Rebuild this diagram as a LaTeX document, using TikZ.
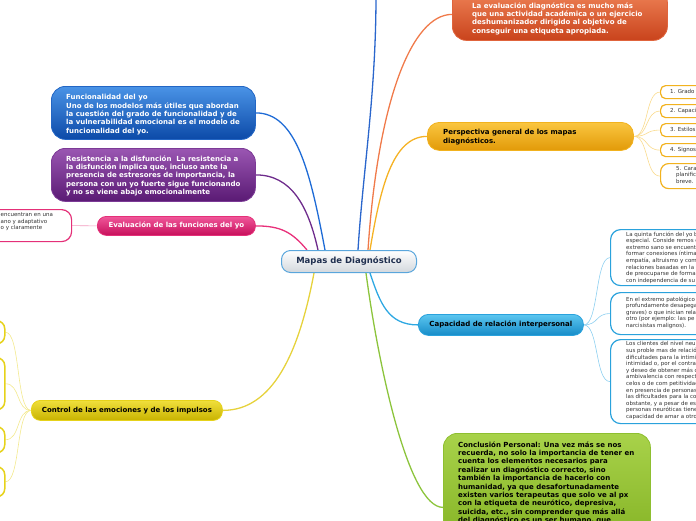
\documentclass[tikz,border=0pt]{standalone}
\usepackage{fontspec}
\setmainfont{DejaVu Sans}
\usetikzlibrary{calc,backgrounds}
\definecolor{bluT}{HTML}{4A93E6}\definecolor{bluB}{HTML}{0C4AA8}\definecolor{bluD}{HTML}{2366C4}
\definecolor{purT}{HTML}{9A56B2}\definecolor{purB}{HTML}{5A1A74}\definecolor{purD}{HTML}{7C3A96}
\definecolor{pnkT}{HTML}{F0579A}\definecolor{pnkB}{HTML}{C70F5B}\definecolor{pnkD}{HTML}{E43078}
\definecolor{yelT}{HTML}{F0DF3C}\definecolor{yelB}{HTML}{C8B300}\definecolor{yelD}{HTML}{E6D21A}
\definecolor{ornT}{HTML}{F08458}\definecolor{ornB}{HTML}{C9431C}\definecolor{ornD}{HTML}{E0643C}
\definecolor{gldT}{HTML}{FAC640}\definecolor{gldB}{HTML}{E29A08}\definecolor{gldD}{HTML}{F2B21E}
\definecolor{capT}{HTML}{5CC6F0}\definecolor{capB}{HTML}{168CC8}\definecolor{capD}{HTML}{2AA2DC}
\definecolor{grnT}{HTML}{A8D24A}\definecolor{grnB}{HTML}{78A818}\definecolor{grnD}{HTML}{8EBF30}
\definecolor{ctrD}{HTML}{5AA6DC}\definecolor{ctrB}{HTML}{D3D8DD}\definecolor{ctrTx}{HTML}{1F2F4F}
\definecolor{cBlu}{HTML}{1E6BD6}\definecolor{cPur}{HTML}{6E2C8C}\definecolor{cPnk}{HTML}{E8307A}
\definecolor{cYel}{HTML}{E6D23C}\definecolor{cTop}{HTML}{2A66CC}\definecolor{cOrn}{HTML}{F07A4A}
\definecolor{cGld}{HTML}{F5B224}\definecolor{cCap}{HTML}{2EA8E2}\definecolor{cGrn}{HTML}{8CC43C}
\definecolor{sGld}{HTML}{F9DB8E}\definecolor{sCap}{HTML}{8ED0F0}\definecolor{sYel}{HTML}{F3E98E}
\definecolor{sPnk}{HTML}{F29BBE}\definecolor{txg}{HTML}{333333}
\begin{document}
\begin{tikzpicture}[x=1pt,y=-1pt,
  mm/.style={rounded corners=#1, line width=0.8pt, inner sep=0pt, anchor=north west},
  bt/.style={font=\fontsize{7}{8.4}\selectfont\bfseries, align=left, inner sep=0pt, anchor=north west},
  st/.style={font=\fontsize{5.5}{6.6}\selectfont, align=left, inner sep=0pt, anchor=north west, text=txg},
  sbox/.style={rounded corners=#1, line width=1.2pt, fill=white, inner sep=0pt, anchor=north west},
  conn/.style={line width=1.3pt},
  sub/.style={line width=0.6pt}]
\useasboundingbox (0,0) rectangle (696,520);
\clip (0,0) rectangle (696,520);
% central
\node[mm=9, draw=ctrD, line width=1pt, top color=white, bottom color=ctrB, minimum width=135pt, minimum height=22pt,
  font=\fontsize{8.5}{10}\selectfont\bfseries, text=ctrTx] (ctr) at (281,250) {Mapas de Diagnóstico};
\coordinate (topc) at (376,-5);
% orange
\node[mm=14, draw=ornD, top color=ornT, bottom color=ornB, minimum width=215pt, minimum height=52pt] (orn) at (452,-12) {};
\node[bt, text=white] (ornt) at (472,2.2) {La evaluación diagnóstica es mucho más\\que una actividad académica o un ejercicio\\deshumanizador dirigido al objetivo de\\conseguir una etiqueta apropiada.};
% perspectiva
\node[mm=12, draw=gldD, top color=gldT, bottom color=gldB, minimum width=206pt, minimum height=28pt] (per) at (427,122) {};
\node[bt, text=black] (pert) at (443,129.2) {Perspectiva general de los mapas\\diagnósticos.};
% list boxes
\node[sbox=5, draw=gldD, minimum width=60pt, minimum height=13pt] (l1) at (660,85) {};
\node[sbox=5, draw=gldD, minimum width=60pt, minimum height=13pt] (l2) at (660,104) {};
\node[sbox=5, draw=gldD, minimum width=60pt, minimum height=13pt] (l3) at (660,123) {};
\node[sbox=5, draw=gldD, minimum width=60pt, minimum height=13pt] (l4) at (660,143) {};
\node[sbox=8, draw=gldD, minimum width=60pt, minimum height=25pt] (l5) at (660,163) {};
\node[st, anchor=west] (l1t) at (670,91.5) {1. Grado de};
\node[st, anchor=west] (l2t) at (670,110.5) {2. Capacidad};
\node[st, anchor=west] (l3t) at (670,129.5) {3. Estilos de};
\node[st, anchor=west] (l4t) at (670,149.5) {4. Signos de};
\node[st] (l5t) at (676,166) {5. Caracter\\planificar\\breve.};
% capacidad
\node[mm=10, draw=capD, top color=capT, bottom color=capB, minimum width=165pt, minimum height=21pt,
  font=\fontsize{7}{8.4}\selectfont\bfseries, text=black] (cap) at (418,314) {Capacidad de relación interpersonal};
\node[sbox=10, draw=capD, minimum width=110pt, minimum height=56pt] (ba) at (610,229) {};
\node[sbox=10, draw=capD, minimum width=110pt, minimum height=42pt] (bb) at (610,292) {};
\node[sbox=10, draw=capD, minimum width=110pt, minimum height=84pt] (bc) at (610,339) {};
\node[st] (bat) at (626,231.5) {La quinta función del yo b\\especial. Conside remos c\\extremo sano se encuentr\\formar conexiones íntimas\\empatía, altruismo y com\\relaciones basadas en la\\de preocuparse de forma\\con independencia de su};
\node[st] (bbt) at (626,296.5) {En el extremo patológico\\profundamente desapega\\graves) o que inician rela\\otro (por ejemplo: las pe\\narcisistas malignos).};
\node[st] (bct) at (626,341.5) {Los clientes del nivel neu\\sus proble mas de relació\\dificultades para la intimi\\intimidad o, por el contra\\y deseo de obtener más c\\ambivalencia con respect\\celos o de com petitividad\\en presencia de personas\\las dificultades para la co\\obstante, y a pesar de es\\personas neuróticas tiene\\capacidad de amar a otro};
% green
\node[mm=14, draw=grnD, top color=grnT, bottom color=grnB, minimum width=207pt, minimum height=148pt] (grn) at (443,433) {};
\node[bt, text=black] (grnt) at (458,441.2) {Conclusión Personal: Una vez más se nos\\recuerda, no solo la importancia de tener en\\cuenta los elementos necesarios para\\realizar un diagnóstico correcto, sino\\también la importancia de hacerlo con\\humanidad, ya que desafortunadamente\\existen varios terapeutas que solo ve al px\\con la etiqueta de neurótico, depresiva,\\suicida, etc., sin comprender que más allá\\del diagnóstico es un ser humano, que};
% blue
\node[mm=14, draw=bluD, top color=bluT, bottom color=bluB, minimum width=204pt, minimum height=53pt] (blu) at (51,86) {};
\node[bt, text=white] (blut) at (66,94.2) {Funcionalidad del yo\\Uno de los modelos más útiles que abordan\\la cuestión del grado de funcionalidad y de\\la vulnerabilidad emocional es el modelo de\\funcionalidad del yo.};
% purple
\node[mm=14, draw=purD, top color=purT, bottom color=purB, minimum width=204pt, minimum height=53pt] (pur) at (51,148) {};
\node[bt, text=white] (purt) at (66,155.2) {Resistencia a la disfunción\ \ La resistencia a\\la disfunción implica que, incluso ante la\\presencia de estresores de importancia, la\\persona con un yo fuerte sigue funcionando\\y no se viene abajo emocionalmente};
% pink
\node[mm=9, draw=pnkD, top color=pnkT, bottom color=pnkB, minimum width=158pt, minimum height=19pt,
  font=\fontsize{7}{8.4}\selectfont\bfseries, text=white] (pnk) at (97,216) {Evaluación de las funciones del yo};
\node[sbox=10, draw=pnkD, minimum width=111pt, minimum height=32pt] (pl) at (-40,209) {};
\node[st] (plt) at (0.5,212.5) {encuentran en una\\ano y adaptativo\\o y claramente};
% yellow
\node[mm=9, draw=yelD, top color=yelT, bottom color=yelB, minimum width=191pt, minimum height=20pt,
  font=\fontsize{7}{8.4}\selectfont\bfseries, text=black] (ctl) at (31,400) {Control de las emociones y de los impulsos};
\node[sbox=8, draw=yelD, line width=1.5pt, minimum width=44pt, minimum height=23pt] (y1) at (-40,320) {};
\node[sbox=8, draw=yelD, line width=1.5pt, minimum width=44pt, minimum height=52pt] (y2) at (-40,357) {};
\node[sbox=8, draw=yelD, line width=1.5pt, minimum width=44pt, minimum height=26pt] (y3) at (-40,426) {};
\node[sbox=8, draw=yelD, line width=1.5pt, minimum width=44pt, minimum height=30pt] (y4) at (-40,466) {};
% connectors
\begin{scope}[on background layer]
\draw[conn, cBlu] ($(ctr.north)+(-24,0)$) .. controls +(-15,-80) and +(40,0) .. (blu.east);
\draw[conn, cPur] ($(ctr.north)+(-31,0)$) .. controls +(-10,-45) and +(35,0) .. (pur.east);
\draw[conn, cPnk] ($(ctr.north)+(-42,0)$) .. controls +(-15,-18) and +(25,0) .. (pnk.east);
\draw[conn, cYel] ($(ctr.south)+(-35,0)$) .. controls +(-15,80) and +(50,0) .. (ctl.east);
\draw[conn, cTop] ($(ctr.north)+(9,0)$) .. controls +(5,-80) and +(0,100) .. (topc);
\draw[conn, cOrn] ($(ctr.north)+(19,0)$) .. controls +(10,-150) and +(-40,0) .. (orn.west);
\draw[conn, cGld] ($(ctr.north)+(21,0)$) .. controls +(10,-60) and +(-35,0) .. (per.west);
\draw[conn, cCap] ($(ctr.south)+(21,0)$) .. controls +(10,30) and +(-30,0) .. (cap.west);
\draw[conn, cGrn] ($(ctr.south)+(17,0)$) .. controls +(12,90) and +(-35,0) .. (grn.west);
\foreach \t in {l1,l2,l3,l4,l5}
  \draw[sub, sGld] (per.east) .. controls +(15,0) and +(-15,0) .. (\t.west);
\foreach \t in {ba,bb,bc}
  \draw[sub, sCap] (cap.east) .. controls +(15,0) and +(-15,0) .. (\t.west);
\foreach \t in {y1,y2,y3,y4}
  \draw[sub, sYel] (ctl.west) .. controls +(-15,0) and +(15,0) .. (\t.east);
\draw[sub, sPnk] (pnk.west) -- (pl.east);
\end{scope}
\end{tikzpicture}
\end{document}
